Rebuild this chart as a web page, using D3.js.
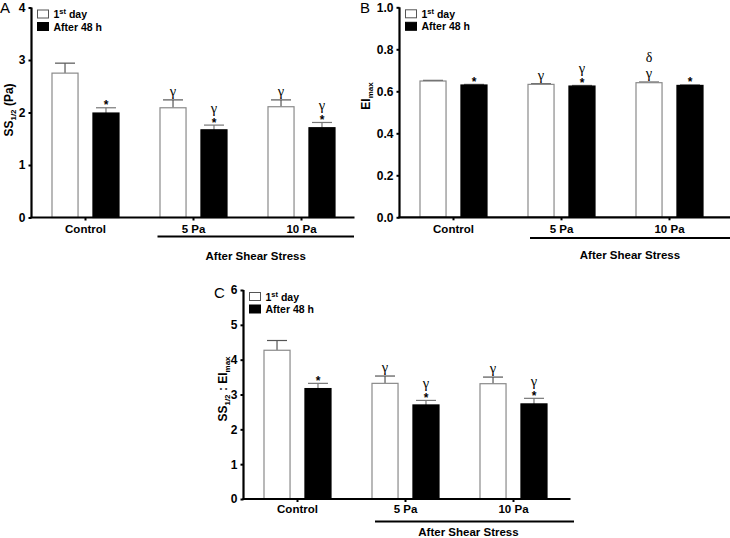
<!DOCTYPE html>
<html>
<head>
<meta charset="utf-8">
<script src="https://cdn.jsdelivr.net/npm/d3@7"></script>
<style>
  html, body { margin: 0; padding: 0; background: #fff; }
  svg { display: block; font-family: "Liberation Sans", Arial, Helvetica, sans-serif; }
</style>
</head>
<body>
<svg id="chart" width="730" height="538"></svg>
<script>
// ---------------- data ----------------
const groups = ["Control", "5 Pa", "10 Pa"];
const seriesLabels = ["1st day", "After 48 h"];
const groupCaption = "After Shear Stress";

// Panel A: SS1/2 (Pa)
const ssDay1 = [2.75, 2.09, 2.11];
const ssDay1Err = [0.19, 0.15, 0.13];
const ss48h = [1.99, 1.67, 1.71];
const ss48hErr = [0.10, 0.09, 0.10];
const ssTicks = [0, 1, 2, 3, 4];
const ssAnnDay1 = [[], ["γ"], ["γ"]];
const ssAnn48h = [["*"], ["γ", "*"], ["γ", "*"]];

// Panel B: EImax
const eiDay1 = [0.649, 0.633, 0.641];
const eiDay1Err = [0.003, 0.003, 0.003];
const ei48h = [0.630, 0.625, 0.628];
const ei48hErr = [0.003, 0.003, 0.003];
const eiTicks = [0.0, 0.2, 0.4, 0.6, 0.8, 1.0];
const eiAnnDay1 = [[], ["γ"], ["δ", "γ"]];
const eiAnn48h = [["*"], ["γ", "*"], ["*"]];

// Panel C: SS1/2 : EImax
const ratioDay1 = [4.27, 3.32, 3.31];
const ratioDay1Err = [0.28, 0.21, 0.19];
const ratio48h = [3.17, 2.70, 2.73];
const ratio48hErr = [0.15, 0.13, 0.16];
const ratioTicks = [0, 1, 2, 3, 4, 5, 6];
const ratioAnnDay1 = [[], ["γ"], ["γ"]];
const ratioAnn48h = [["*"], ["γ", "*"], ["γ", "*"]];

// ---------------- drawing ----------------
const svg = d3.select("#chart");

const panels = [
  { letter: "A", letterX: 0, letterY: 13,
    x0: 31.5, axisLen: 323, yTop: 7.5, yBot: 217.5, yMax: 4,
    ticks: ssTicks, fmt: d3.format("d"),
    vals: [ssDay1, ss48h], errs: [ssDay1Err, ss48hErr], anns: [ssAnnDay1, ssAnn48h],
    title: [["SS", 0], ["1/2", 1], [" (Pa)", -1]], titleX: 13, titleY: 110,
    ulStart: 157.5, ulEnd: 354, ulY: 236.5, lblY: 232.5, capY: 260 },
  { letter: "B", letterX: 360, letterY: 13,
    x0: 399.5, axisLen: 331, yTop: 7.3, yBot: 217.3, yMax: 1.0,
    ticks: eiTicks, fmt: d3.format(".1f"),
    vals: [eiDay1, ei48h], errs: [eiDay1Err, ei48hErr], anns: [eiAnnDay1, eiAnn48h],
    title: [["EI", 0], ["max", 1]], titleX: 370, titleY: 96,
    ulStart: 530, ulEnd: 730, ulY: 238, lblY: 232.5, capY: 259 },
  { letter: "C", letterX: 214, letterY: 298,
    x0: 243.5, axisLen: 327, yTop: 290, yBot: 499, yMax: 6,
    ticks: ratioTicks, fmt: d3.format("d"),
    vals: [ratioDay1, ratio48h], errs: [ratioDay1Err, ratio48hErr], anns: [ratioAnnDay1, ratioAnn48h],
    title: [["SS", 0], ["1/2", 1], [" : EI", -1], ["max", 1]], titleX: 227, titleY: 389,
    ulStart: 375, ulEnd: 574, ulY: 521.5, lblY: 513, capY: 536 }
];

const fills = ["#ffffff", "#000000"];
const strokes = ["#8a8a8a", "#000000"];
const errColors = ["#555", "#777"];
const serif = "'Liberation Serif', 'Times New Roman', serif";

panels.forEach(p => {
  const g = svg.append("g");

  const x = d3.scaleBand().domain(groups).range([p.x0, p.x0 + 324]).paddingInner(0).paddingOuter(0);
  const xs = d3.scaleBand().domain([0, 1]).range([-34, 34]).paddingInner(0.34);
  const y = d3.scaleLinear().domain([0, p.yMax]).range([p.yBot, p.yTop]);
  const cx = gname => x(gname) + x.bandwidth() / 2;

  // panel letter
  g.append("text").attr("x", p.letterX).attr("y", p.letterY)
    .attr("font-size", 15).attr("fill", "#000").text(p.letter);

  // bars
  [0, 1].forEach(s => {
    const data = groups.map((gn, i) => ({ g: gn, v: p.vals[s][i], e: p.errs[s][i], ann: p.anns[s][i] }));
    const bx = d => cx(d.g) + xs(s);
    const bw = xs.bandwidth();

    // error bars (upper only)
    data.forEach(d => {
      const mid = bx(d) + bw / 2;
      g.append("line").attr("x1", mid).attr("x2", mid)
        .attr("y1", y(d.v)).attr("y2", y(d.v + d.e))
        .attr("stroke", errColors[s]).attr("stroke-width", 1.2);
      g.append("line").attr("x1", mid - 10).attr("x2", mid + 10)
        .attr("y1", y(d.v + d.e)).attr("y2", y(d.v + d.e))
        .attr("stroke", errColors[s]).attr("stroke-width", 1.2);
    });

    g.selectAll(null).data(data).enter().append("rect")
      .attr("x", d => bx(d) + 0.5)
      .attr("y", d => y(d.v))
      .attr("width", bw - 1)
      .attr("height", d => y(0) - y(d.v))
      .attr("fill", fills[s])
      .attr("stroke", strokes[s])
      .attr("stroke-width", 1.2);

    // significance annotations: symbols stacked bottom-up above the cap
    data.forEach(d => {
      if (!d.ann.length) return;
      const mid = bx(d) + bw / 2;
      let level = y(d.v + d.e);
      const txt = g.append("text").attr("text-anchor", "middle");
      const syms = d.ann.slice().reverse();
      syms.forEach(sym => {
        if (sym === "*") {
          txt.append("tspan").attr("x", mid).attr("y", level + 1.5)
            .attr("font-size", 12).attr("font-weight", "bold").text("*");
          level = level - 8;
        } else if (sym === "γ") {
          const base = level - 4;
          txt.append("tspan").attr("x", mid).attr("y", base)
            .attr("font-size", 14.5).attr("font-family", serif).text("γ");
          level = base - 8;
        } else {
          const base = level - 8;
          txt.append("tspan").attr("x", mid).attr("y", base)
            .attr("font-size", 14).attr("font-family", serif).text(sym);
          level = base - 11;
        }
      });
    });
  });

  // y axis
  const yAxis = d3.axisLeft(y).tickValues(p.ticks).tickFormat(p.fmt).tickSize(3).tickPadding(3);
  const ya = g.append("g").attr("transform", `translate(${p.x0},0)`).call(yAxis);
  ya.select(".domain").attr("stroke", "#000").attr("stroke-width", 2.2)
    .attr("d", `M0,${p.yBot}V${p.yTop}`);
  ya.selectAll(".tick line").attr("stroke", "#000").attr("stroke-width", 2);
  ya.selectAll(".tick text").attr("font-size", 12).attr("font-weight", "bold")
    .attr("font-family", "'Liberation Sans', Arial, sans-serif").attr("fill", "#000");

  // x axis
  const xAxis = d3.axisBottom(x).tickSize(3).tickPadding(5);
  const xa = g.append("g").attr("transform", `translate(0,${p.yBot})`).call(xAxis);
  xa.select(".domain").attr("stroke", "#000").attr("stroke-width", 2.2)
    .attr("d", `M${p.x0 - 1},0H${p.x0 + p.axisLen}`);
  xa.selectAll(".tick line").attr("stroke", "#000").attr("stroke-width", 2);
  xa.selectAll(".tick text").remove();
  groups.forEach(gn => {
    g.append("text").attr("x", cx(gn)).attr("y", p.lblY)
      .attr("text-anchor", "middle").attr("font-size", 11.5).attr("font-weight", "bold")
      .text(gn);
  });

  // underline + caption
  g.append("line").attr("x1", p.ulStart).attr("x2", p.ulEnd)
    .attr("y1", p.ulY).attr("y2", p.ulY).attr("stroke", "#000").attr("stroke-width", 2);
  g.append("text").attr("x", (p.ulStart + p.ulEnd) / 2 + (p.letter === "C" ? -6 : 0)).attr("y", p.capY)
    .attr("text-anchor", "middle").attr("font-size", 11.5).attr("font-weight", "bold")
    .text(groupCaption);

  // y title
  const t = g.append("text")
    .attr("transform", `translate(${p.titleX},${p.titleY}) rotate(-90)`)
    .attr("text-anchor", "middle").attr("font-size", 12).attr("font-weight", "bold");
  p.title.forEach(([txt, sub]) => {
    const ts = t.append("tspan").text(txt);
    if (sub === 1) ts.attr("font-size", 8).attr("dy", 3);
    else if (sub === -1) ts.attr("dy", -3);
  });

  // legend
  const lx = p.x0 + 6, ly = p.yTop + 2.5;
  seriesLabels.forEach((lab, s) => {
    g.append("rect").attr("x", lx).attr("y", ly + s * 12.5)
      .attr("width", 11).attr("height", 8)
      .attr("fill", fills[s]).attr("stroke", s === 0 ? "#555" : "#000").attr("stroke-width", 1);
    const tt = g.append("text").attr("x", lx + 16).attr("y", ly + s * 12.5 + 8)
      .attr("font-size", 10.5).attr("font-weight", "bold");
    if (s === 0) {
      tt.append("tspan").text("1");
      tt.append("tspan").text("st").attr("font-size", 7.5).attr("dy", -4);
      tt.append("tspan").text(" day").attr("dy", 4);
    } else {
      tt.text(lab);
    }
  });
});
</script>
</body>
</html>
